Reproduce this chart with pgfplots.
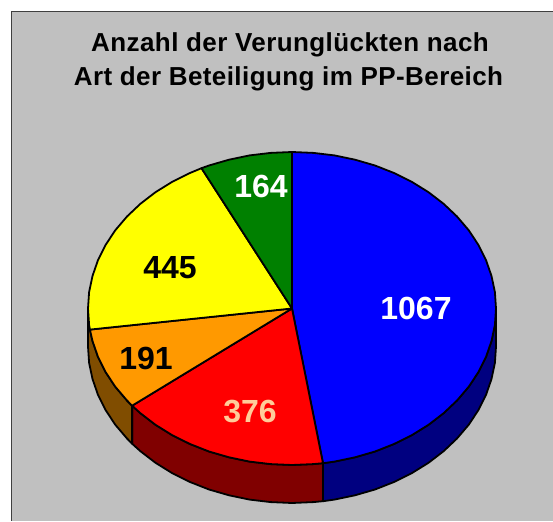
\documentclass[border=0pt]{standalone}
\usepackage{pgfplots}
\pgfplotsset{compat=1.18}
\usepackage{fontspec}
\setmainfont{Liberation Sans}
\newfontfamily\titlefont[LetterSpace=1.6]{Liberation Sans}
\definecolor{bg}{HTML}{C0C0C0}
\definecolor{pBlue}{HTML}{0000FF}
\definecolor{pRed}{HTML}{FF0000}
\definecolor{pOrange}{HTML}{FF9900}
\definecolor{pYellow}{HTML}{FFFF00}
\definecolor{pGreen}{HTML}{008000}
\definecolor{dBlue}{HTML}{000080}
\definecolor{dRed}{HTML}{800000}
\definecolor{dOrange}{HTML}{804D00}
\definecolor{lbl}{HTML}{FFCC99}
\begin{document}
\begin{tikzpicture}
\begin{axis}[
  scale only axis, width=553pt, height=521pt,
  xmin=0, xmax=553, ymin=0, ymax=521,
  hide axis,
  every axis plot/.append style={line join=round, line width=1.8pt, black},
]
% page and chart area
\addplot[fill=white, draw=none] coordinates {(0,0) (553,0) (553,521) (0,521)} -- cycle;
\addplot[fill=bg, draw=black!75, line width=1.2pt] coordinates {(11.5,-5) (560,-5) (560,509.3) (11.5,509.3)} -- cycle;
% sides of the pie
\addplot[fill=dBlue] coordinates {(496,212.5) (494.9,196.1) (491.5,180) (486,164.1) (478.4,148.9) (468.7,134.25) (457,120.5) (443.6,107.8) (428.5,96.2) (411.9,85.9) (394,77) (375,69.5) (355,63.7) (334.4,59.4) (323,57.8)
 (323,19.8) (334.4,21.4) (355,25.7) (375,31.5) (394,39) (411.9,47.9) (428.5,58.2) (443.6,69.8) (457,82.5) (468.7,96.25) (478.4,110.9) (486,126.1) (491.5,142) (494.9,158.1) (496,174.5)} -- cycle;
\addplot[fill=dRed] coordinates {(323,57.8) (313.3,56.9) (292,56) (270.7,56.9) (249.6,59.4) (229,63.7) (209,69.5) (190,77) (172.1,85.9) (155.5,96.2) (140.4,107.8) (132.1,115.3)
 (132.1,77.3) (140.4,69.8) (155.5,58.2) (172.1,47.9) (190,39) (209,31.5) (229,25.7) (249.6,21.4) (270.7,18.9) (292,18) (313.3,18.9) (323,19.8)} -- cycle;
\addplot[fill=dOrange] coordinates {(132.1,115.3) (127,120.5) (115.3,134.25) (105.6,148.9) (98,164.1) (92.5,180) (89.9,191.4) (89.1,196.1) (88,212.5)
 (88,174.5) (89.1,158.1) (92.5,142) (98,126.1) (105.6,110.9) (115.3,96.25) (127,82.5) (132.1,77.3)} -- cycle;
% top of the pie: 1067, 376, 191, 445, 164
\addplot[fill=pBlue] coordinates {(292,212.5) (292,369) (313.3,368.1) (334.4,365.6) (355,361.3) (375,355.5) (394,348) (411.9,339.1) (428.5,328.8) (443.6,317.2) (457,304.5) (468.7,290.75) (478.4,276.1) (486,260.9) (491.5,245) (494.9,228.9) (496,212.5) (494.9,196.1) (491.5,180) (486,164.1) (478.4,148.9) (468.7,134.25) (457,120.5) (443.6,107.8) (428.5,96.2) (411.9,85.9) (394,77) (375,69.5) (355,63.7) (334.4,59.4) (323,57.8)} -- cycle;
\addplot[fill=pRed] coordinates {(292,212.5) (323,57.8) (313.3,56.9) (292,56) (270.7,56.9) (249.6,59.4) (229,63.7) (209,69.5) (190,77) (172.1,85.9) (155.5,96.2) (140.4,107.8) (132.1,115.3)} -- cycle;
\addplot[fill=pOrange] coordinates {(292,212.5) (132.1,115.3) (127,120.5) (115.3,134.25) (105.6,148.9) (98,164.1) (92.5,180) (89.9,191.4)} -- cycle;
\addplot[fill=pYellow] coordinates {(292,212.5) (89.9,191.4) (89.1,196.1) (88,212.5) (89.1,228.9) (92.5,245) (98,260.9) (105.6,276.1) (115.3,290.75) (127,304.5) (140.4,317.2) (155.5,328.8) (172.1,339.1) (190,348) (201.5,352.8)} -- cycle;
\addplot[fill=pGreen] coordinates {(292,212.5) (201.5,352.8) (209,355.5) (229,361.3) (249.6,365.6) (270.7,368.1) (292,369)} -- cycle;
% texts
\node[anchor=base, font=\titlefont\fontsize{26}{26}\selectfont\bfseries] at (axis cs:290,469.3) {Anzahl der Verunglückten nach};
\node[anchor=base, font=\titlefont\fontsize{26}{26}\selectfont\bfseries] at (axis cs:288.5,435) {Art der Beteiligung im PP-Bereich};
\node[anchor=base, text=white, font=\fontsize{32}{32}\selectfont\bfseries] at (axis cs:416,201) {1067};
\node[anchor=base, text=lbl, font=\fontsize{32}{32}\selectfont\bfseries] at (axis cs:250,98) {376};
\node[anchor=base, text=black, font=\fontsize{32}{32}\selectfont\bfseries] at (axis cs:146,151) {191};
\node[anchor=base, text=black, font=\fontsize{32}{32}\selectfont\bfseries] at (axis cs:170,242) {445};
\node[anchor=base, text=white, font=\fontsize{32}{32}\selectfont\bfseries] at (axis cs:261,323) {164};
\end{axis}
\end{tikzpicture}
\end{document}
